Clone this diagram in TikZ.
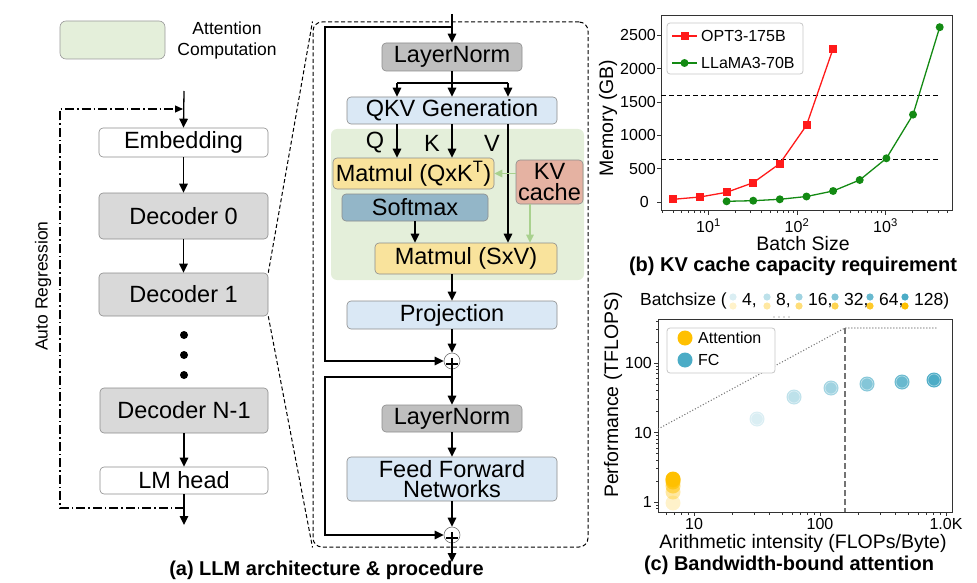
\documentclass[tikz,border=0pt]{standalone}
\usepackage{fontspec}
\setmainfont{Liberation Sans}
\usetikzlibrary{arrows.meta}
\definecolor{attn}{HTML}{E4EFDA}
\definecolor{decg}{HTML}{D9D9D9}
\definecolor{lng}{HTML}{BFBFBF}
\definecolor{lblue}{HTML}{DAE8F5}
\definecolor{mmy}{HTML}{F9E39C}
\definecolor{kvc}{HTML}{E5B2A2}
\definecolor{smx}{HTML}{93B6C8}
\definecolor{garr}{HTML}{A9D18E}
\definecolor{fcb}{HTML}{4BACC6}
\definecolor{ator}{HTML}{FFC000}
\definecolor{ggreen}{HTML}{138A13}
\definecolor{rred}{HTML}{FF1A1A}
\newcommand\fbig{\fontsize{23.5}{20.5}\selectfont}
\newcommand\fmid{\fontsize{17.5}{21}\selectfont}
\newcommand\ftick{\fontsize{16}{18}\selectfont}
\newcommand\flab{\fontsize{19.5}{22}\selectfont}
\newcommand\fleg{\fontsize{16}{18}\selectfont}
\newcommand\fcap{\fontsize{20}{22}\selectfont\bfseries}
\begin{document}
\begin{tikzpicture}[x=1pt,y=-1pt,
  box/.style={draw=black!45, line width=0.6pt, rounded corners=4pt, inner sep=0pt, font=\fbig, align=center},
  arr/.style={line width=1.3pt, -{Triangle[length=9pt,width=8.5pt]}},
  ln/.style={line width=1.3pt},
  garrow/.style={draw=garr, line width=1.3pt, -{Triangle[length=8pt,width=7.5pt,fill=garr]}},
  zoomln/.style={line width=1pt, dash pattern=on 4pt off 2.5pt},
  plusc/.style={circle, draw=black!55, line width=0.6pt, minimum size=16pt, inner sep=0pt},
  ddot/.style={circle, fill=black, inner sep=0pt, minimum size=8pt},
  tk/.style={line width=0.8pt, black!80},
  frame/.style={line width=1pt, black!80},
  legbox/.style={draw=black!22, fill=white, rounded corners=3pt, line width=0.8pt},
]
\useasboundingbox (0,0) rectangle (977,583);

% ================= (a) left panel =================
\node[box, draw=black!40, fill=attn, rounded corners=6pt, minimum width=105pt, minimum height=38pt] (leg) at (112.5,40) {};
\node[font=\fmid, align=center] (legt) at (227,40) {Attention\\Computation};

\node[box, fill=white, minimum width=169pt, minimum height=29pt] (emb) at (183.5,142.5) {Embedding};
\node[box, fill=decg, minimum width=169pt, minimum height=46pt] (dec0) at (183.5,216) {Decoder 0};
\node[box, fill=decg, minimum width=169pt, minimum height=43pt] (dec1) at (183.5,294.5) {Decoder 1};
\node[ddot] (d1) at (184,335) {};
\node[ddot] (d2) at (184,355) {};
\node[ddot] (d3) at (184,375) {};
\node[box, fill=decg, minimum width=168pt, minimum height=45pt] (decN) at (184,410.5) {Decoder N-1};
\node[box, fill=white, minimum width=168pt, minimum height=27pt] (lmh) at (184,480.5) {LM head};

\coordinate (in0) at (184,91);
\coordinate (out0) at (184,525);
\coordinate (ar1) at (184,508);
\coordinate (ar2) at (183,109);
\draw[arr] (in0) -- (emb.north);
\draw[arr] (emb.south) -- (dec0.north);
\draw[arr] (dec0.south) -- (dec1.north);
\draw[arr] (decN.south) -- (lmh.north);
\draw[arr] (lmh.south) -- (out0);
\draw[line width=1.1pt, dash pattern=on 9pt off 3pt on 1.5pt off 3pt, -{Triangle[length=8pt,width=7pt]}]
  (ar1) -- (60,508) -- (60,109) -- (ar2);
\node[font=\fmid, rotate=90] (autor) at (43,286) {Auto Regression};

% zoom box
\node[draw, zoomln, rounded corners=9pt, minimum width=275pt, minimum height=525pt, inner sep=0pt] (zbox) at (450.5,284.5) {};
\draw[zoomln] (dec1.north east) -- (zbox.north west);
\draw[zoomln] (dec1.south east) -- (zbox.south west);

% ================= (a) middle panel =================
\node[fill=attn, rounded corners=6pt, minimum width=253pt, minimum height=151pt, inner sep=0pt] (areg) at (457.5,204.5) {};
\node[box, fill=lng, minimum width=140pt, minimum height=28pt] (ln1) at (452,57) {LayerNorm};
\node[box, fill=lblue, minimum width=210pt, minimum height=27pt] (qkv) at (452,110.5) {QKV Generation};
\node[box, fill=mmy, minimum width=161pt, minimum height=31pt] (mm1) at (413.5,173.5) {Matmul (QxK\textsuperscript{T})};
\node[box, fill=kvc, minimum width=67pt, minimum height=44pt] (kv) at (549.5,182) {KV\\cache};
\node[box, fill=smx, minimum width=146pt, minimum height=27pt] (soft) at (415,207.5) {Softmax};
\node[box, fill=mmy, minimum width=182pt, minimum height=31pt] (mm2) at (466,258.5) {Matmul (SxV)};
\node[box, fill=lblue, minimum width=210pt, minimum height=28pt] (proj) at (452,315) {Projection};
\node[plusc] (p1) at (452,361) {};
\node[box, fill=lng, minimum width=140pt, minimum height=27pt] (ln2) at (452,418.5) {LayerNorm};
\node[box, fill=lblue, minimum width=210pt, minimum height=44pt] (ffn) at (452,479) {Feed Forward\\Networks};
\node[plusc] (p2) at (452,535) {};
\node[font=\fbig] (lq) at (375,143) {Q};
\node[font=\fbig] (lk) at (432,143) {K};
\node[font=\fbig] (lv) at (492,143) {V};

\coordinate (min) at (452,14);
\coordinate (mr1) at (452,27);
\coordinate (msp) at (452,83);
\coordinate (mr2) at (452,377);
\coordinate (mout) at (452,562);
\coordinate (xq) at (397,0);
\coordinate (xk) at (452,0);
\coordinate (xv) at (508,0);
\coordinate (xs) at (415,0);
\coordinate (xkv) at (530,0);

\draw[arr] (min) -- (ln1.north);
\draw[arr] (mr1) -- (325,27) |- (p1.west);
\draw[ln] (ln1.south) -- (msp);
\draw[ln] (xq |- msp) -- (xv |- msp);
\draw[arr] (xq |- msp) -- (xq |- qkv.north);
\draw[arr] (xk |- msp) -- (xk |- qkv.north);
\draw[arr] (xv |- msp) -- (xv |- qkv.north);
\draw[arr] (xq |- qkv.south) -- (xq |- mm1.north);
\draw[arr] (xk |- qkv.south) -- (xk |- mm1.north);
\draw[arr] (xv |- qkv.south) -- (xv |- mm2.north);
\draw[garrow] (kv.west |- mm1.east) -- (mm1.east);
\draw[garrow] (xkv |- kv.south) -- (xkv |- mm2.north);
\draw[arr] (xs |- soft.south) -- (xs |- mm2.north);
\draw[arr] (xk |- mm2.south) -- (proj.north);
\draw[arr] (proj.south) -- (p1.north);
\draw[arr] ([yshift=3pt]p1.center) -- (ln2.north);
\draw[ln] ([xshift=-6pt,yshift=-3pt]p1.center) -- ([xshift=6pt,yshift=-3pt]p1.center);
\draw[arr] (mr2) -- (325,377) |- (p2.west);
\draw[arr] (ln2.south) -- (ffn.north);
\draw[arr] (ffn.south) -- (p2.north);
\draw[arr] ([yshift=3pt]p2.center) -- (mout);
\draw[ln] ([xshift=-6pt,yshift=-3pt]p2.center) -- ([xshift=6pt,yshift=-3pt]p2.center);

\node[font=\fcap] (capa) at (326.5,570) {(a) LLM architecture \& procedure};

% ================= (b) KV cache chart =================
\draw[frame] (661,16) rectangle (952,210);
\foreach \v in {500,1000,1500,2000,2500} {
  \pgfmathsetmacro\yy{202-\v*0.0667}
  \draw[tk] (661,\yy) -- (657,\yy);
  \node[font=\ftick, anchor=east, inner sep=0pt] at (656,\yy) {\v};
}
\draw[tk] (661,202) -- (657,202);
\node[font=\ftick, anchor=east, inner sep=0pt] at (649,202) {0};
\foreach \v in {3,4,...,9,20,30,...,90,200,300,...,900,2000,3000,4000,5000} {
  \pgfmathsetmacro\xx{708.5+(ln(\v)/ln(10)-1)*88.5}
  \draw[tk] (\xx,210) -- (\xx,213);
}
\foreach \e/\xx in {1/708.5,2/797,3/885.5} {
  \draw[tk] (\xx,210) -- (\xx,215);
  \node[font=\ftick, inner sep=0pt] at (\xx,226) {10\textsuperscript{\e}};
}
\draw[black, line width=1.2pt, dash pattern=on 5pt off 3pt] (661,95.3) -- (938,95.3);
\draw[black, line width=1.2pt, dash pattern=on 5pt off 3pt] (661,159.3) -- (938,159.3);
\draw[rred, line width=1.3pt] (673.3,199.3) -- (699.9,197.0) -- (726.6,192.3) -- (753.2,182.7) -- (779.8,163.6) -- (806.5,125.3) -- (833.1,48.6);
\foreach \px/\py in {673.3/199.3,699.9/197.0,726.6/192.3,753.2/182.7,779.8/163.6,806.5/125.3,833.1/48.6}
  \fill[rred] (\px-4,\py-4) rectangle (\px+4,\py+4);
\draw[ggreen, line width=1.3pt] (726.6,201.3) -- (753.2,200.7) -- (779.8,199.3) -- (806.5,196.5) -- (833.1,191.0) -- (859.7,180.0) -- (886.4,158.3) -- (913.0,114.6) -- (939.7,27.2);
\foreach \px/\py in {726.6/201.3,753.2/200.7,779.8/199.3,806.5/196.5,833.1/191.0,859.7/180.0,886.4/158.3,913.0/114.6,939.7/27.2}
  \fill[ggreen] (\px,\py) circle (4pt);
\draw[legbox] (667,23) rectangle (803,74);
\draw[rred, line width=1.3pt] (672,36) -- (697,36);
\fill[rred] (680.5,32) rectangle (688.5,40);
\node[font=\fleg, anchor=west, inner sep=0pt] at (701,36) {OPT3-175B};
\draw[ggreen, line width=1.3pt] (672,63) -- (697,63);
\fill[ggreen] (684.5,63) circle (4pt);
\node[font=\fleg, anchor=west, inner sep=0pt] at (701,63) {LLaMA3-70B};
\node[font=\flab, rotate=90] at (608,118) {Memory (GB)};
\node[font=\flab, inner sep=0pt] at (803,244) {Batch Size};
\node[font=\fcap] at (793,266) {(b) KV cache capacity requirement};

% ================= (c) roofline chart =================
\node[font=\fmid, anchor=west, inner sep=0pt] at (640,301) {Batchsize (};
\foreach \i/\xx/\t in {1/733/{4,},2/767/{8,},3/799/{16,},4/835/{32,},5/870/{64,},6/905/{128)}} {
  \pgfmathsetmacro\op{0.05+0.158*\i}
  \fill[fcb, fill opacity=\op] (\xx,297) circle (3.6pt);
  \fill[ator, fill opacity=\op] (\xx,306) circle (3.6pt);
  \node[font=\fmid, anchor=west, inner sep=0pt] at (\xx+9,301) {\t};
}
\foreach \xx in {774,779,784,789} \fill[black!60] (\xx,317) circle (0.6pt);

\draw[frame] (658,319) rectangle (952,512);
\foreach \v in {0.8,0.9,2,3,4,5,6,7,8,9,20,30,40,50,60,70,80,90,200,300,400} {
  \pgfmathsetmacro\yy{502-ln(\v)/ln(10)*69.5}
  \draw[tk] (658,\yy) -- (655.5,\yy);
}
\foreach \v/\yy in {1/502,10/432.5,100/363} {
  \draw[tk] (658,\yy) -- (654,\yy);
  \node[font=\ftick, anchor=east, inner sep=0pt] at (652,\yy) {\v};
}
\foreach \v in {6,7,8,9,20,30,40,50,60,70,80,90,200,300,400,500,600,700,800,900} {
  \pgfmathsetmacro\xx{694+(ln(\v)/ln(10)-1)*126}
  \draw[tk] (\xx,512) -- (\xx,514.5);
}
\foreach \t/\xx in {10/694,100/820,1.0K/946} {
  \draw[tk] (\xx,512) -- (\xx,516);
  \node[font=\ftick, inner sep=0pt] at (\xx,524) {\t};
}
\draw[black!55, line width=1.1pt, dash pattern=on 1pt off 2pt] (658,429) -- (845,328) -- (937,328);
\draw[black!55, line width=1.3pt, dash pattern=on 6pt off 3pt] (845,328) -- (845,512);
\foreach \i/\px/\py in {1/757/419,2/794/397,3/831/388,4/867/384,5/902/382,6/934/380} {
  \pgfmathsetmacro\op{0.05+0.158*\i}
  \fill[fcb, fill opacity=\op] (\px,\py) circle (7.5pt);
  \draw[white, opacity=0.5, line width=0.6pt] (\px,\py) circle (6pt);
}
\foreach \i/\py in {1/503,2/492,3/486,4/482,5/480,6/479} {
  \pgfmathsetmacro\op{0.05+0.158*\i}
  \fill[ator, fill opacity=\op] (673,\py) circle (7.5pt);
}
\draw[legbox] (667,328) rectangle (775,373);
\fill[ator] (685,338) circle (7.5pt);
\node[font=\fleg, anchor=west, inner sep=0pt] at (698,338) {Attention};
\fill[fcb] (685,360) circle (7.5pt);
\node[font=\fleg, anchor=west, inner sep=0pt] at (698,360) {FC};
\node[font=\flab, rotate=90] at (613,395) {Performance (TFLOPS)};
\node[font=\flab, inner sep=0pt] at (803,543) {Arithmetic intensity (FLOPs/Byte)};
\node[font=\fcap] at (789,565) {(c) Bandwidth-bound attention};
\end{tikzpicture}
\end{document}
